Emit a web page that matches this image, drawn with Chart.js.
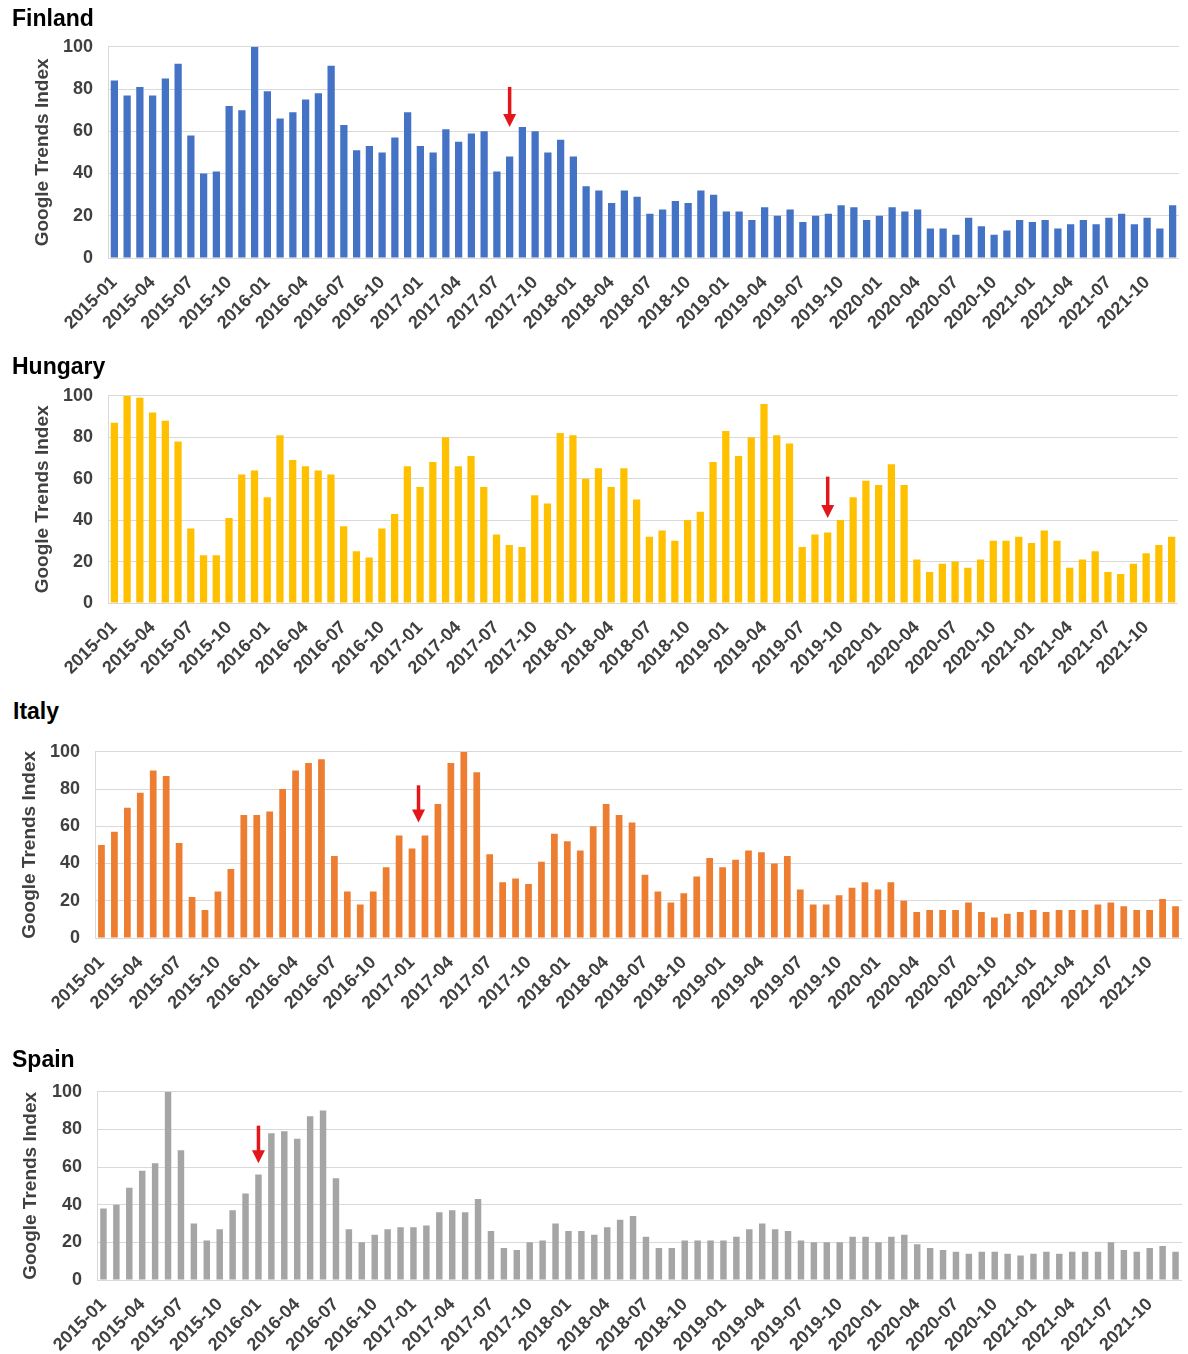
<!DOCTYPE html>
<html><head><meta charset="utf-8">
<script src="https://cdn.jsdelivr.net/npm/chart.js@4/dist/chart.umd.min.js"></script>
<style>
html,body{margin:0;padding:0;background:#fff;width:1188px;height:1354px;overflow:hidden;position:relative;font-family:"Liberation Sans",Arial,sans-serif;}
.ttl{position:absolute;font-weight:bold;font-size:23px;line-height:23px;color:#000;z-index:2;white-space:nowrap;}
canvas{position:absolute;left:0;}
</style></head><body>
<script>
const months = [
 '2015-01','2015-02','2015-03','2015-04','2015-05','2015-06','2015-07','2015-08','2015-09','2015-10','2015-11','2015-12',
 '2016-01','2016-02','2016-03','2016-04','2016-05','2016-06','2016-07','2016-08','2016-09','2016-10','2016-11','2016-12',
 '2017-01','2017-02','2017-03','2017-04','2017-05','2017-06','2017-07','2017-08','2017-09','2017-10','2017-11','2017-12',
 '2018-01','2018-02','2018-03','2018-04','2018-05','2018-06','2018-07','2018-08','2018-09','2018-10','2018-11','2018-12',
 '2019-01','2019-02','2019-03','2019-04','2019-05','2019-06','2019-07','2019-08','2019-09','2019-10','2019-11','2019-12',
 '2020-01','2020-02','2020-03','2020-04','2020-05','2020-06','2020-07','2020-08','2020-09','2020-10','2020-11','2020-12',
 '2021-01','2021-02','2021-03','2021-04','2021-05','2021-06','2021-07','2021-08','2021-09','2021-10','2021-11','2021-12'
];
const finland = [
 84,77,81,77,85,92,58,40,41,72,70,100,
 79,66,69,75,78,91,63,51,53,50,57,69,
 53,50,61,55,59,60,41,48,62,60,50,56,
 48,34,32,26,32,29,21,23,27,26,32,30,
 22,22,18,24,20,23,17,20,21,25,24,18,
 20,24,22,23,14,14,11,19,15,11,13,18,
 17,18,14,16,18,16,19,21,16,19,14,25
];
const hungary = [
 87,100,99,92,88,78,36,23,23,41,62,64,
 51,81,69,66,64,62,37,25,22,36,43,66,
 56,68,80,66,71,56,33,28,27,52,48,82,
 81,60,65,56,65,50,32,35,30,40,44,68,
 83,71,80,96,81,77,27,33,34,40,51,59,
 57,67,57,21,15,19,20,17,21,30,30,32,
 29,35,30,17,21,25,15,14,19,24,28,32
];
const italy = [
 50,57,70,78,90,87,51,22,15,25,37,66,
 66,68,80,90,94,96,44,25,18,25,38,55,
 48,55,72,94,100,89,45,30,32,29,41,56,
 52,47,60,72,66,62,34,25,19,24,33,43,
 38,42,47,46,40,44,26,18,18,23,27,30,
 26,30,20,14,15,15,15,19,14,11,13,14,
 15,14,15,15,15,18,19,17,15,15,21,17
];
const spain = [
 38,40,49,58,62,100,69,30,21,27,37,46,
 56,78,79,75,87,90,54,27,20,24,27,28,
 28,29,36,37,36,43,26,17,16,20,21,30,
 26,26,24,28,32,34,23,17,17,21,21,21,
 21,23,27,30,27,26,21,20,20,20,23,23,
 20,23,24,19,17,16,15,14,15,15,14,13,
 14,15,14,15,15,15,20,16,15,17,18,15
];
const countries = ['Finland','Hungary','Italy','Spain'];
const arrowIndex = [31, 56, 24.5, 12];
const arrowTop = [81, 61, 82, 82];
const arrowTip = [62, 41, 62, 62];
const yTickValues = [0, 20, 40, 60, 80, 100];
const yAxisTitle = 'Google Trends Index';

const seriesList = [finland, hungary, italy, spain];
const panels = [
 {color:'#4472C4', plotTop:47,   plotBottom:258,  plotLeft:108, plotRight:1179, yTitleX:43, bar:0.57, titleTop:7,    titleLeft:12},
 {color:'#FFC000', plotTop:396,  plotBottom:603,  plotLeft:108, plotRight:1178, yTitleX:43, bar:0.57, titleTop:355,  titleLeft:12},
 {color:'#ED7D31', plotTop:752,  plotBottom:938,  plotLeft:95,  plotRight:1182, yTitleX:30, bar:0.52, titleTop:700,  titleLeft:13},
 {color:'#A5A5A5', plotTop:1092, plotBottom:1280, plotLeft:97,  plotRight:1182, yTitleX:31, bar:0.50, titleTop:1048, titleLeft:12}
];

const FONT = '"Liberation Sans", Arial, sans-serif';
const TICK_COLOR = '#404040';
const GRID = '#D9D9D9';
const PAD_TOP = 15, X_H = 72, Y_TITLE_SIZE = 19;

const arrowPlugin = {
  id: 'redArrow',
  afterDatasetsDraw(chart, args, opts) {
    const {ctx} = chart; const xs = chart.scales.x, ys = chart.scales.y;
    const px = xs.getPixelForValue(opts.index);
    const yTop = ys.getPixelForValue(opts.from);
    const yTip = ys.getPixelForValue(opts.to);
    const headLen = 13, headHalf = 6.5;
    ctx.save();
    ctx.strokeStyle = '#E3161B'; ctx.fillStyle = '#E3161B';
    ctx.lineWidth = 3.5; ctx.lineCap = 'butt';
    ctx.beginPath(); ctx.moveTo(px, yTop); ctx.lineTo(px, yTip - headLen + 1); ctx.stroke();
    ctx.beginPath(); ctx.moveTo(px - headHalf, yTip - headLen); ctx.lineTo(px + headHalf, yTip - headLen); ctx.lineTo(px, yTip); ctx.closePath(); ctx.fill();
    ctx.restore();
  }
};

panels.forEach((p, i) => {
  const t = document.createElement('div');
  t.className = 'ttl'; t.textContent = countries[i];
  t.style.top = p.titleTop + 'px'; t.style.left = p.titleLeft + 'px';
  document.body.appendChild(t);

  const cv = document.createElement('canvas');
  const plotH = p.plotBottom - p.plotTop;
  const h = PAD_TOP + plotH + X_H;
  cv.width = 1188; cv.height = h;
  cv.style.width = '1188px'; cv.style.height = h + 'px';
  cv.style.top = (p.plotTop - PAD_TOP) + 'px';
  document.body.appendChild(cv);

  const padLeft = p.yTitleX - Y_TITLE_SIZE * 1.2 / 2;
  const chart = new Chart(cv.getContext('2d'), {
    type: 'bar',
    data: { labels: months, datasets: [{ data: seriesList[i], backgroundColor: p.color, borderWidth: 0, categoryPercentage: 1, barPercentage: p.bar }] },
    plugins: [arrowPlugin],
    options: {
      responsive: false, maintainAspectRatio: false, animation: false, devicePixelRatio: 1,
      layout: { padding: { left: padLeft, right: 1188 - p.plotRight, top: PAD_TOP, bottom: 0 } },
      plugins: { legend: {display:false}, tooltip: {enabled:false}, title: {display:false},
        redArrow: { index: arrowIndex[i], from: arrowTop[i], to: arrowTip[i] } },
      scales: {
        x: {
          grid: { display: false, drawTicks: false },
          border: { display: false },
          ticks: { autoSkip: false, minRotation: 45, maxRotation: 45, padding: 14, color: TICK_COLOR,
            font: { family: FONT, size: 18, weight: 'bold' },
            callback: function(v, idx) { return idx % 3 === 0 ? months[idx] : ''; } },
          afterFit: s => { s.height = X_H; s.paddingLeft = 0; s.paddingRight = 0; }
        },
        y: {
          min: 0, max: 100,
          afterBuildTicks: s => { s.ticks = yTickValues.map(v => ({value: v})); },
          grid: { color: GRID, lineWidth: 1, drawTicks: false },
          border: { display: true, color: GRID, width: 1 },
          ticks: { padding: 15, color: TICK_COLOR, font: { family: FONT, size: 18, weight: 'bold' } },
          title: { display: true, text: yAxisTitle, color: TICK_COLOR, padding: {top:0, bottom:0},
            font: { family: FONT, size: Y_TITLE_SIZE, weight: 'bold' } },
          afterFit: s => { s.width = p.plotLeft - padLeft; }
        }
      }
    }
  });
  // Align the plot area with the reference layout.
  const offTop = chart.chartArea.top;
  const extraBottom = h - chart.chartArea.bottom;
  const newH = Math.round(offTop + plotH + extraBottom);
  cv.style.height = newH + 'px';
  chart.resize(1188, newH);
  cv.style.top = Math.round(p.plotTop - chart.chartArea.top) + 'px';
});
</script>
</body></html>
